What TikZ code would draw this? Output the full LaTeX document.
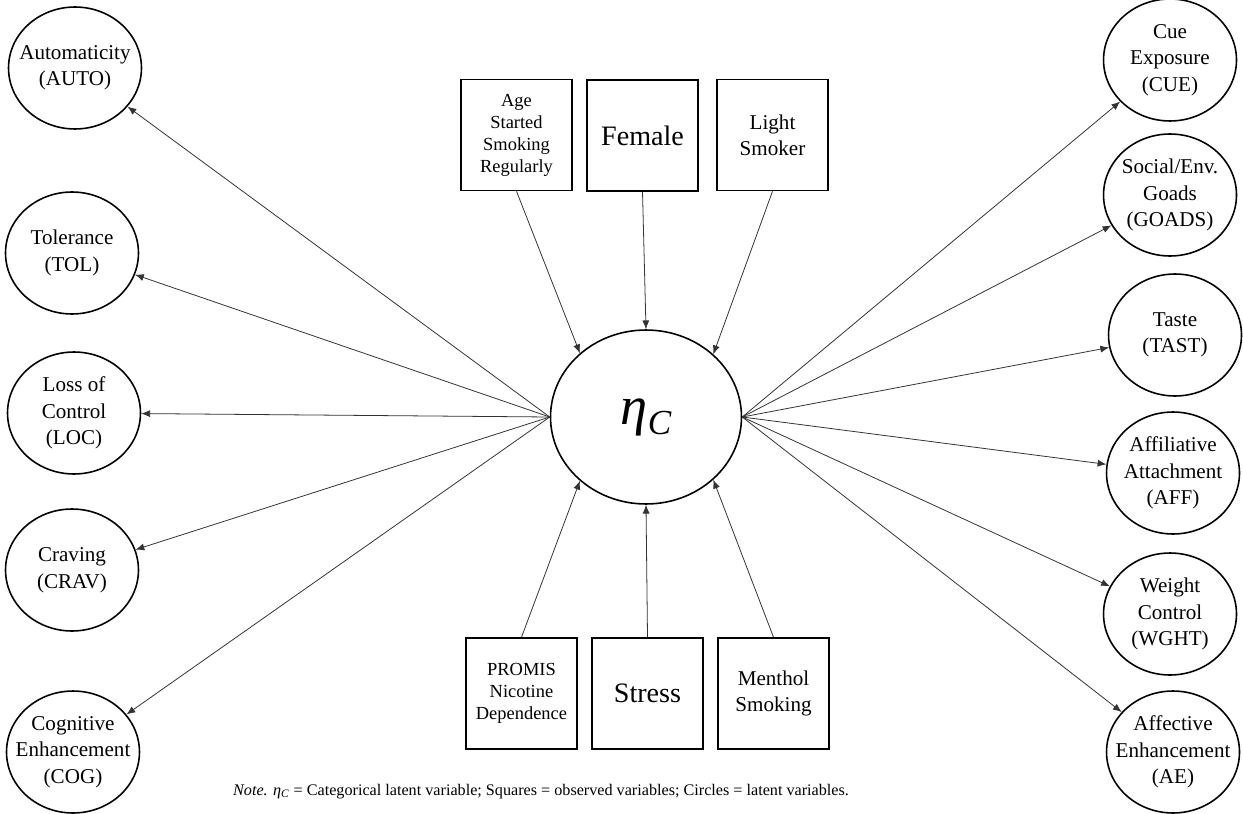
\documentclass[tikz,border=0pt]{standalone}
\usepackage{fontspec}
\setmainfont{Liberation Serif}
\usepackage{tikz}
\usetikzlibrary{arrows.meta, shapes.geometric}

\begin{document}
\begin{tikzpicture}[x=0.02cm, y=-0.02cm,
  latent/.style={draw, line width=0.9pt, ellipse, inner sep=0pt,
    minimum width=2.66cm, minimum height=2.44cm,
    label={[align=center, font=\fontsize{12}{15.1}\selectfont]center:#1}},
  obsbox/.style={draw, line width=0.9pt, rectangle, inner sep=0pt,
    minimum size=2.22cm, align=center},
  path/.style={draw=black!80, line width=0.45pt,
    -{Latex[length=5pt, width=4pt]}}]
  \useasboundingbox (0,0) rectangle (1243,814);
  % categorical latent variable
  \node (eta) at (646,417) [draw, line width=0.9pt, ellipse, inner sep=0pt,
    minimum width=3.82cm, minimum height=3.48cm]
    {\fontsize{31}{32}\selectfont\itshape η\raisebox{-6pt}{\fontsize{20}{22}\selectfont C}};
  % covariates
  \node (age) at (516.5,135) [obsbox, font=\fontsize{10.5}{12.5}\selectfont]
    {Age\\Started\\Smoking\\Regularly};
  \node (female) at (642.5,135.5) [obsbox, font=\fontsize{16}{18}\selectfont] {Female};
  \node (light) at (772.5,135) [obsbox, font=\fontsize{12}{14.7}\selectfont] {Light\\Smoker};
  \node (promis) at (521.5,693.5) [obsbox, font=\fontsize{10.5}{12.5}\selectfont]
    {PROMIS\\Nicotine\\Dependence};
  \node (stress) at (647.5,693.5) [obsbox, font=\fontsize{16}{18}\selectfont] {Stress};
  \node (menthol) at (773.5,693.5) [obsbox, font=\fontsize{12}{14.7}\selectfont] {Menthol\\Smoking};
  % left indicators
  \node (auto) at (75,68) [latent={Automaticity\\(AUTO)}] {};
  \node (tol) at (72,253) [latent={Tolerance\\(TOL)}] {};
  \node (loc) at (74,413) [latent={Loss of\\Control\\(LOC)}] {};
  \node (crav) at (72,570) [latent={Craving\\(CRAV)}] {};
  \node (cog) at (73,752) [latent={Cognitive\\Enhancement\\(COG)}] {};
  % right indicators
  \node (cue) at (1170,60) [latent={Cue\\Exposure\\(CUE)}] {};
  \node (goads) at (1170,195) [latent={Social/Env.\\Goads\\(GOADS)}] {};
  \node (tast) at (1175,335) [latent={Taste\\(TAST)}] {};
  \node (aff) at (1173,473) [latent={Affiliative\\Attachment\\(AFF)}] {};
  \node (wght) at (1170,614) [latent={Weight\\Control\\(WGHT)}] {};
  \node (ae) at (1173,752) [latent={Affective\\Enhancement\\(AE)}] {};
  % paths
  \draw [path] (age.south) -- (eta.136);
  \draw [path] (female.south) -- (eta.north);
  \draw [path] (light.south) -- (eta.43);
  \draw [path] (promis.north) -- (eta.224);
  \draw [path] (stress.north) -- (eta.south);
  \draw [path] (menthol.north) -- (eta.317);
  \foreach \n in {auto, tol, loc, crav, cog}
    \draw [path] (eta.west) -- (\n);
  \foreach \n in {cue, goads, tast, aff, wght, ae}
    \draw [path] (eta.east) -- (\n);
  % note
  \node (note) at (541,792) {\fontsize{9.2}{11}\selectfont\textit{Note.}
    \textit{η}\textsubscript{\textit{C}} = Categorical latent variable;
    Squares = observed variables; Circles = latent variables.};
\end{tikzpicture}
\end{document}
